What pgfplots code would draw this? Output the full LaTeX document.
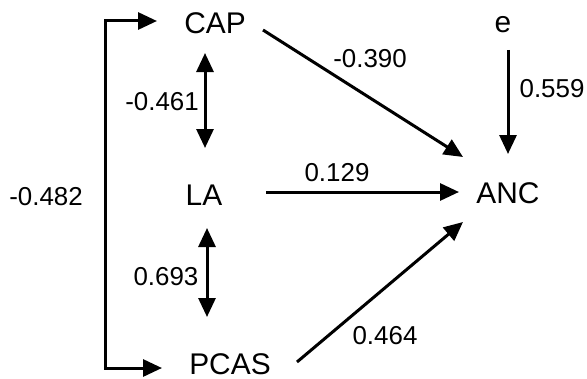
\documentclass[border=0pt]{standalone}
\usepackage{fontspec}
\setmainfont{Liberation Sans}
\usepackage{pgfplots}
\pgfplotsset{compat=1.18}
\usetikzlibrary{arrows.meta}
\begin{document}
\begin{tikzpicture}
\begin{axis}[
  width=587bp, height=379bp, scale only axis,
  xmin=0, xmax=587, ymin=0, ymax=379, y dir=reverse,
  hide axis, clip=false,
  every axis plot/.append style={black, line width=3bp, line join=miter},
]
\path (rel axis cs:0,0) rectangle (rel axis cs:1,1);
% bracket CAP/PCAS
\addplot[{Triangle[length=19bp,width=17bp]}-{Triangle[length=19bp,width=17bp]}] coordinates {(157,21) (105,21) (105,368) (162,368)};
% CAP <-> LA
\addplot[{Triangle[length=19bp,width=17bp]}-{Triangle[length=19bp,width=17bp]}] coordinates {(205,53) (205,148)};
% LA <-> PCAS
\addplot[{Triangle[length=19bp,width=17bp]}-{Triangle[length=19bp,width=17bp]}] coordinates {(207,228) (207,317)};
% CAP -> ANC
\addplot[-{Triangle[length=19bp,width=17bp]}] coordinates {(263,30) (463,157)};
% e -> ANC
\addplot[-{Triangle[length=19bp,width=17bp]}] coordinates {(508,50) (508,154)};
% LA -> ANC
\addplot[-{Triangle[length=19bp,width=17bp]}] coordinates {(266,192) (459,192)};
% PCAS -> ANC
\addplot[-{Triangle[length=19bp,width=17bp]}] coordinates {(297,362) (463,222)};
% variable names
\begin{scope}[every node/.style={anchor=base, inner sep=0pt, font=\fontsize{30}{36}\selectfont}]
\node at (axis cs:215,33) {CAP};
\node at (axis cs:503,32) {e};
\node at (axis cs:204,205) {LA};
\node at (axis cs:508,203) {ANC};
\node at (axis cs:230,374) {PCAS};
\end{scope}
% coefficients
\begin{scope}[every node/.style={anchor=base, inner sep=0pt, font=\fontsize{26}{30}\selectfont}]
\node at (axis cs:162,110) {-0.461};
\node at (axis cs:46,205) {-0.482};
\node at (axis cs:166,285) {0.693};
\node at (axis cs:370,67) {-0.390};
\node at (axis cs:552,97) {0.559};
\node at (axis cs:337,181) {0.129};
\node at (axis cs:385,344) {0.464};
\end{scope}
\end{axis}
\end{tikzpicture}
\end{document}
